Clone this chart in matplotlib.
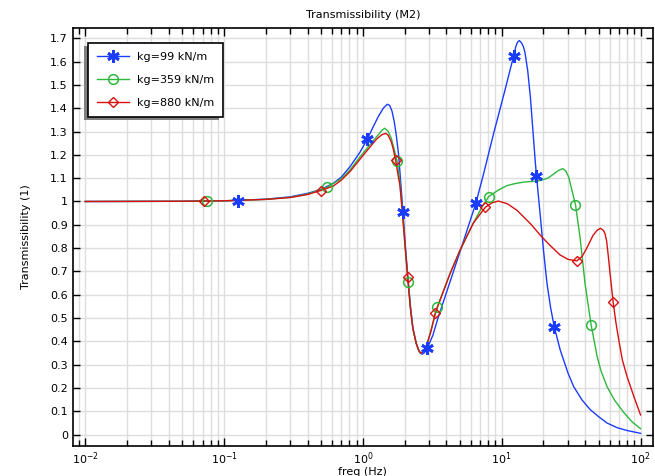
import matplotlib
matplotlib.use("Agg")
import matplotlib.pyplot as plt
from matplotlib.patches import Rectangle
from matplotlib.transforms import IdentityTransform
from matplotlib.ticker import LogLocator, MultipleLocator

# Transmissibility of mass M2 for three ground stiffness values

f_99 = [0.01, 0.05, 0.1, 0.2, 0.3, 0.4, 0.5, 0.612, 0.7, 0.807, 0.95, 1.076, 1.188,
        1.291, 1.403, 1.50, 1.56, 1.62, 1.68, 1.74, 1.81, 1.872, 1.945, 2.021, 2.113,
        2.21, 2.296, 2.425, 2.565, 2.666, 2.78, 2.91, 3.20, 3.475, 4.24, 5.01, 6.51,
        7.38, 8.73, 10.5, 11.5, 12.2, 12.6, 13.0, 13.4, 13.9, 14.3, 14.7, 15.4, 16.1,
        16.8, 17.5, 18.2, 19.0, 20.0, 21.2, 22.5, 23.9, 26.4, 28.0, 30.0, 33.0, 38.0,
        43.5, 50.0, 57.4, 68.0, 80.0, 100.0]
T_99 = [1.000, 1.001, 1.003, 1.010, 1.020, 1.035, 1.052, 1.078, 1.105, 1.149, 1.210, 1.267, 1.321,
        1.364, 1.400, 1.417, 1.412, 1.388, 1.345, 1.285, 1.199, 1.085, 0.954, 0.813, 0.671,
        0.542, 0.456, 0.392, 0.352, 0.345, 0.352, 0.370, 0.428, 0.500, 0.655, 0.785, 0.992,
        1.115, 1.290, 1.472, 1.565, 1.624, 1.662, 1.683, 1.690, 1.680, 1.665, 1.640, 1.560, 1.446,
        1.300, 1.161, 1.050, 0.933, 0.790, 0.648, 0.545, 0.463, 0.363, 0.318, 0.265, 0.206, 0.148,
        0.107, 0.077, 0.050, 0.030, 0.018, 0.006]

f_359 = [0.01, 0.05, 0.1, 0.2, 0.3, 0.4, 0.553, 0.7, 0.807, 0.95, 1.07, 1.257, 1.366,
         1.435, 1.517, 1.602, 1.684, 1.761, 1.848, 1.926, 2.011, 2.12, 2.20, 2.29, 2.42,
         2.52, 2.61, 2.72, 2.88, 3.10, 3.44, 4.24, 5.0, 6.24, 7.2, 8.05, 9.46, 10.9,
         12.5, 14.4, 16.5, 19.0, 21.5, 23.7, 25.6, 27.5, 29.0, 30.4, 32.0, 34.0, 36.6,
         38.2, 39.8, 44.1, 48.7, 52.0, 57.4, 65.0, 75.8, 87.0, 100.0]
T_359 = [1.000, 1.001, 1.003, 1.009, 1.018, 1.032, 1.061, 1.098, 1.135, 1.190, 1.228, 1.278, 1.304,
         1.314, 1.302, 1.271, 1.222, 1.175, 1.085, 0.954, 0.813, 0.655, 0.542, 0.456, 0.392,
         0.362, 0.350, 0.357, 0.385, 0.450, 0.549, 0.690, 0.790, 0.907, 0.975, 1.021, 1.049, 1.068,
         1.077, 1.083, 1.086, 1.090, 1.100, 1.118, 1.133, 1.141, 1.130, 1.104, 1.050, 0.986, 0.849,
         0.750, 0.649, 0.470, 0.335, 0.272, 0.206, 0.148, 0.095, 0.055, 0.026]

f_880 = [0.01, 0.05, 0.1, 0.2, 0.3, 0.4, 0.497, 0.612, 0.7, 0.807, 0.95, 1.07, 1.257,
         1.366, 1.46, 1.517, 1.602, 1.66, 1.72, 1.79, 1.848, 1.926, 2.011, 2.10, 2.20,
         2.29, 2.42, 2.52, 2.61, 2.72, 2.88, 3.10, 3.32, 4.24, 5.0, 6.24, 7.62, 8.5,
         9.46, 11.0, 12.9, 16.1, 19.0, 22.0, 26.3, 30.0, 34.7, 38.0, 40.9, 45.6, 49.0,
         51.6, 54.0, 55.5, 57.0, 58.5, 60.3, 63.5, 66.5, 69.7, 74.0, 80.0, 90.0, 100.0]
T_880 = [1.000, 1.001, 1.003, 1.009, 1.017, 1.030, 1.047, 1.066, 1.092, 1.128, 1.180, 1.218, 1.268,
         1.286, 1.292, 1.285, 1.256, 1.222, 1.178, 1.115, 1.070, 0.954, 0.813, 0.678, 0.542,
         0.456, 0.392, 0.362, 0.350, 0.357, 0.382, 0.445, 0.521, 0.690, 0.790, 0.907, 0.975, 0.994,
         1.002, 0.990, 0.962, 0.905, 0.855, 0.815, 0.771, 0.752, 0.745, 0.765, 0.799, 0.856, 0.878,
         0.885, 0.876, 0.862, 0.830, 0.770, 0.692, 0.568, 0.480, 0.406, 0.320, 0.249, 0.160, 0.085]

# marker positions along each curve
mf_99 = [0.127, 1.076, 1.945, 2.91, 6.51, 12.2, 17.7, 23.9]
mT_99 = [1.003, 1.267, 0.954, 0.370, 0.992, 1.624, 1.111, 0.463]
mf_359 = [0.0748, 0.553, 1.761, 2.12, 3.44, 8.05, 34.0, 44.1]
mT_359 = [1.000, 1.061, 1.175, 0.655, 0.549, 1.021, 0.986, 0.470]
mf_880 = [0.0722, 0.497, 1.72, 2.10, 3.32, 7.62, 34.7, 63.5]
mT_880 = [1.000, 1.047, 1.178, 0.678, 0.521, 0.975, 0.745, 0.568]

labels = ["kg=99 kN/m", "kg=359 kN/m", "kg=880 kN/m"]
colors = ["#1a3cff", "#2db83d", "#d81010"]

plt.rcParams["font.size"] = 8

fig = plt.figure(figsize=(6.55, 4.76), dpi=100)
ax = fig.add_axes([0.111, 0.0637, 0.886, 0.878])

ax.plot(f_99, T_99, color=colors[0], lw=1.0)
ax.plot(f_359, T_359, color=colors[1], lw=1.0)
ax.plot(f_880, T_880, color=colors[2], lw=1.0)

ax.plot(mf_99, mT_99, ls="none", marker=(6, 2, 0), ms=9, mew=2.0, color=colors[0])
ax.plot(mf_359, mT_359, ls="none", marker="o", ms=7, mew=1.1, mfc="none", mec=colors[1])
ax.plot(mf_880, mT_880, ls="none", marker="D", ms=5, mew=1.0, mfc="none", mec=colors[2])

# legend handles: line + marker
h1, = ax.plot([], [], color=colors[0], lw=1.0, marker=(6, 2, 0), ms=9, mew=2.0)
h2, = ax.plot([], [], color=colors[1], lw=1.0, marker="o", ms=7, mew=1.1, mfc="none")
h3, = ax.plot([], [], color=colors[2], lw=1.0, marker="D", ms=5, mew=1.0, mfc="none")

ax.set_xscale("log")
ax.set_xlim(10 ** -2.09, 10 ** 2.09)
ax.set_ylim(-0.047, 1.745)
ax.xaxis.set_major_locator(LogLocator(base=10, numticks=10))
ax.xaxis.set_minor_locator(LogLocator(base=10, subs=range(2, 10), numticks=20))
ax.yaxis.set_major_locator(MultipleLocator(0.1))
ax.yaxis.set_major_formatter(plt.FuncFormatter(
    lambda v, p: f"{v:.1f}".rstrip("0").rstrip(".") if abs(v) > 1e-9 else "0"))

ax.grid(True, which="major", color="#dedede", lw=1.0)
ax.grid(True, which="minor", axis="x", color="#dedede", lw=1.0)
ax.set_axisbelow(True)

ax.tick_params(which="both", direction="in", top=True, right=True, width=1.0)
ax.tick_params(which="major", length=6)
ax.tick_params(which="minor", length=4)
ax.tick_params(axis="y", which="major", length=5)
for s in ax.spines.values():
    s.set_linewidth(1.2)

ax.set_title("Transmissibility (M2)", fontsize=8, pad=7)
ax.set_xlabel("freq (Hz)", fontsize=8, labelpad=0)
ax.set_ylabel("Transmissibility (1)", fontsize=8, labelpad=14)

leg = ax.legend([h1, h2, h3], labels, loc="upper left", bbox_to_anchor=(0.027, 0.963),
                borderaxespad=0, fancybox=False, edgecolor="black", framealpha=1,
                handlelength=2.9, labelspacing=1.15, borderpad=0.8, handletextpad=0.7)
leg.get_frame().set_linewidth(1.2)
leg.set_zorder(6)

# grey drop shadow offset to the lower left
fig.canvas.draw()
bb = leg.get_window_extent(fig.canvas.get_renderer())
shadow = Rectangle((bb.x0 - 4, bb.y0 - 3), bb.width, bb.height, transform=IdentityTransform(),
                   facecolor="#808080", edgecolor="none", zorder=5.5, clip_on=False)
ax.add_artist(shadow)

fig.savefig("out.png", dpi=100)
